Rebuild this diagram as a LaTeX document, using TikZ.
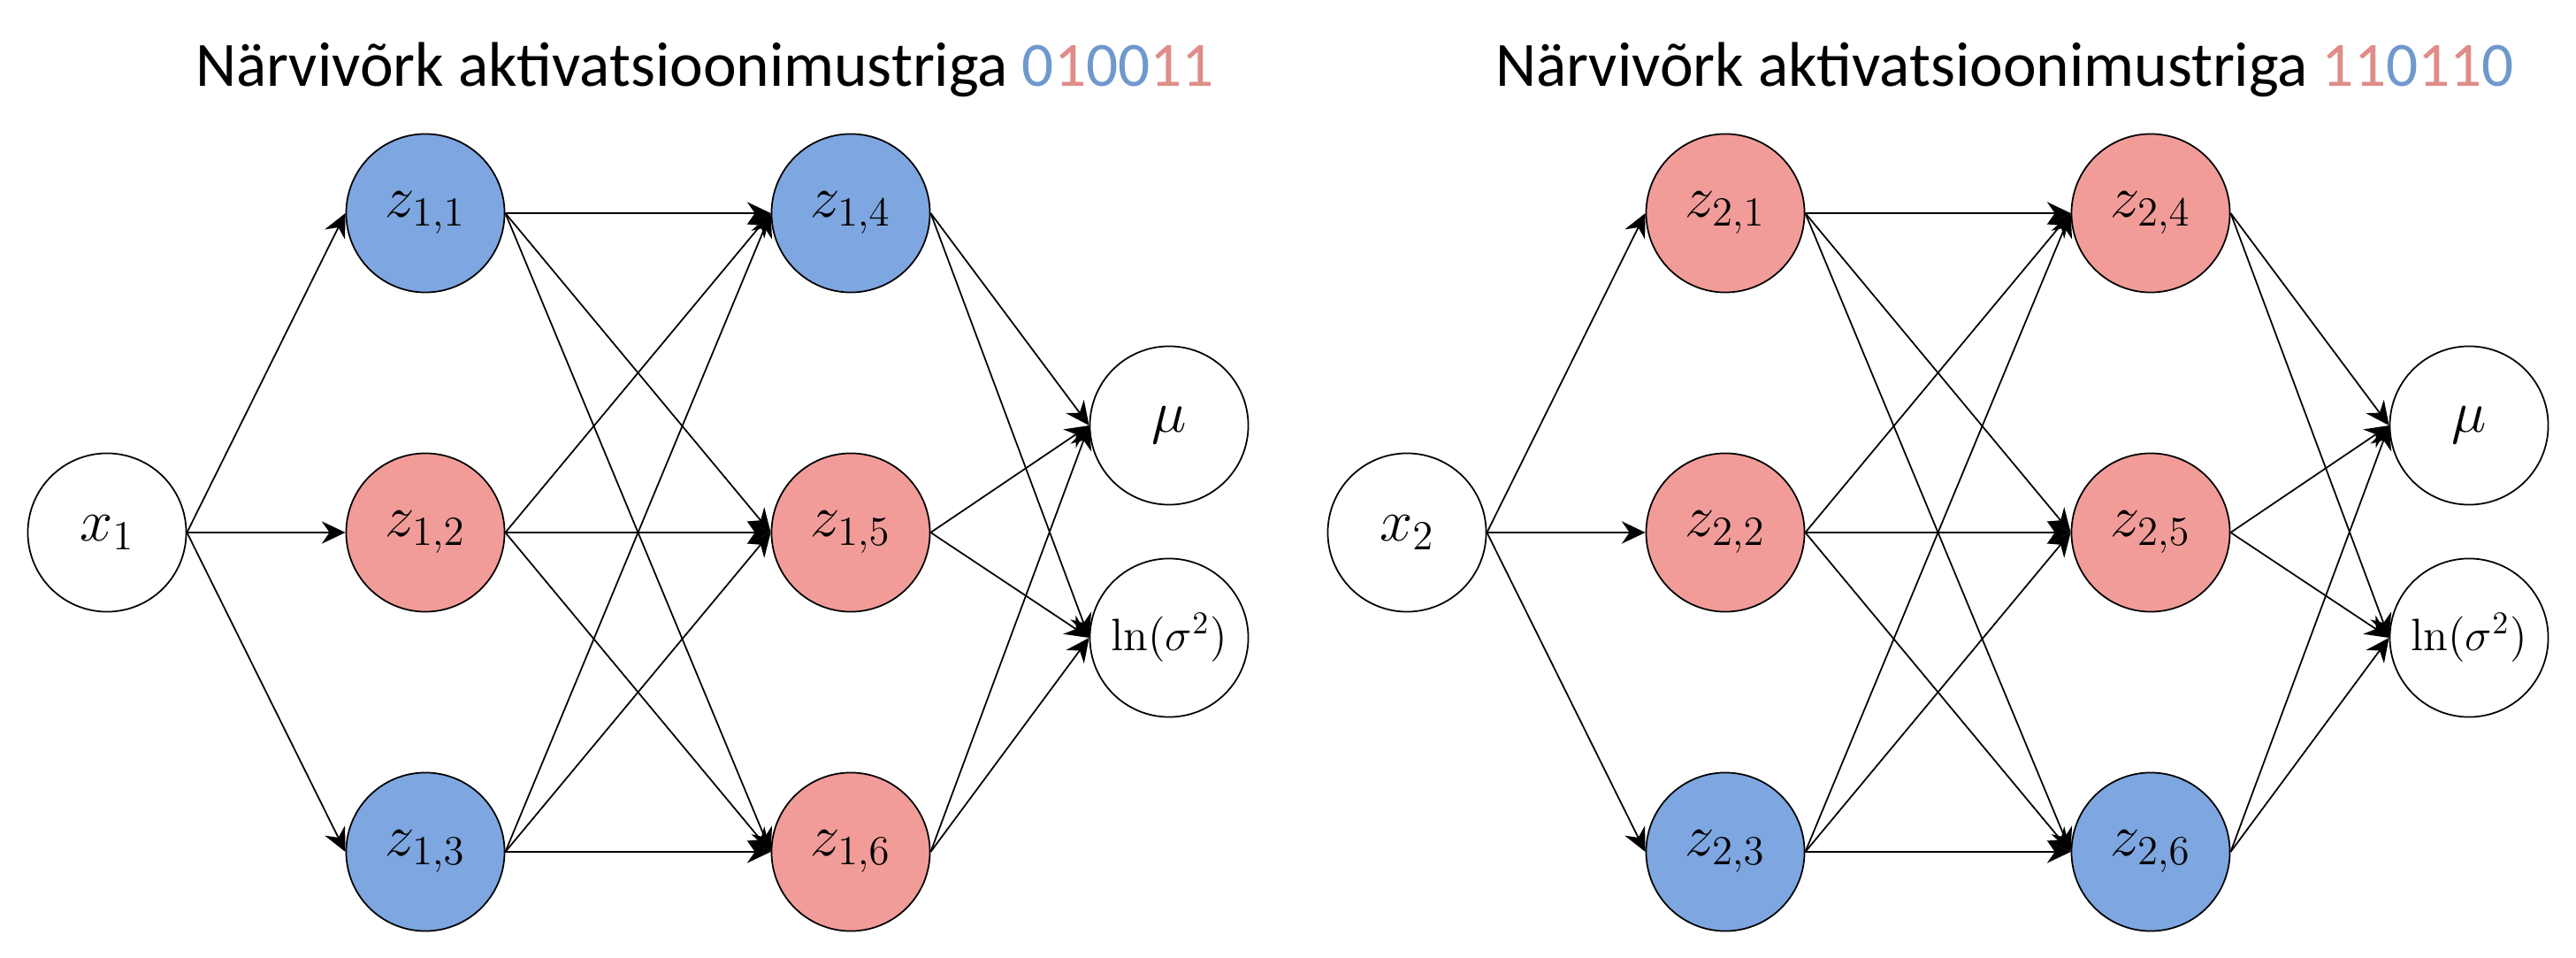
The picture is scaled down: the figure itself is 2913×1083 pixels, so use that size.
\RequirePackage{fix-cm}
\documentclass[tikz,border=0pt]{standalone}
\usepackage{fontspec}
\newfontfamily\titlefont{Carlito}
\usetikzlibrary{arrows.meta}
\DeclareMathSizes{19}{19}{13.3}{9.5}
\definecolor{nblue}{HTML}{7EA6E0}
\definecolor{nred}{HTML}{F19C99}
\definecolor{tblue}{HTML}{7098CE}
\definecolor{tred}{HTML}{E08C89}
\begin{document}
\begin{tikzpicture}[x=0.01cm,y=-0.01cm,
  neuron/.style={circle, draw, line width=0.5pt, minimum size=1.79cm, inner sep=0pt, font=\fontsize{19}{23}\selectfont},
  smalltext/.style={font=\fontsize{14.6}{17}\selectfont},
  conn/.style={-{Stealth[length=7.6pt,width=7.2pt,inset=2.5pt]}, line width=0.5pt},
  titlestyle/.style={anchor=base, font=\titlefont\fontsize{20.3}{24}\selectfont}]
\useasboundingbox (0,0) rectangle (2913,1083);

\node[titlestyle] (t1) at (797,98) {Närvivõrk aktivatsioonimustriga \textcolor{tblue}{0}\textcolor{tred}{1}\textcolor{tblue}{00}\textcolor{tred}{11}};
\node[titlestyle] (t2) at (2267,98) {Närvivõrk aktivatsioonimustriga \textcolor{tred}{11}\textcolor{tblue}{0}\textcolor{tred}{11}\textcolor{tblue}{0}};

\foreach \k/\dx/\ca/\cb/\cc/\cd/\ce/\cf in {1/0/nblue/nred/nblue/nblue/nred/nred, 2/1470/nred/nred/nblue/nred/nred/nblue}{
  \node[neuron] (x\k) at (\dx+121,602) {$x_{\k}$};
  \node[neuron, fill=\ca] (z\k1) at (\dx+481,241) {$z_{\k,1}$};
  \node[neuron, fill=\cb] (z\k2) at (\dx+481,602) {$z_{\k,2}$};
  \node[neuron, fill=\cc] (z\k3) at (\dx+481,963) {$z_{\k,3}$};
  \node[neuron, fill=\cd] (z\k4) at (\dx+962,241) {$z_{\k,4}$};
  \node[neuron, fill=\ce] (z\k5) at (\dx+962,602) {$z_{\k,5}$};
  \node[neuron, fill=\cf] (z\k6) at (\dx+962,963) {$z_{\k,6}$};
  \node[neuron] (mu\k) at (\dx+1322,481) {$\mu$};
  \node[neuron, smalltext] (ln\k) at (\dx+1322,721) {$\ln(\sigma^2)$};
  \foreach \i in {1,2,3}{
    \draw[conn] (x\k.east) -- (z\k\i.west);
    \foreach \j in {4,5,6}{
      \draw[conn] (z\k\i.east) -- (z\k\j.west);
    }
  }
  \foreach \j in {4,5,6}{
    \draw[conn] (z\k\j.east) -- (mu\k.west);
    \draw[conn] (z\k\j.east) -- (ln\k.west);
  }
}
\end{tikzpicture}
\end{document}
